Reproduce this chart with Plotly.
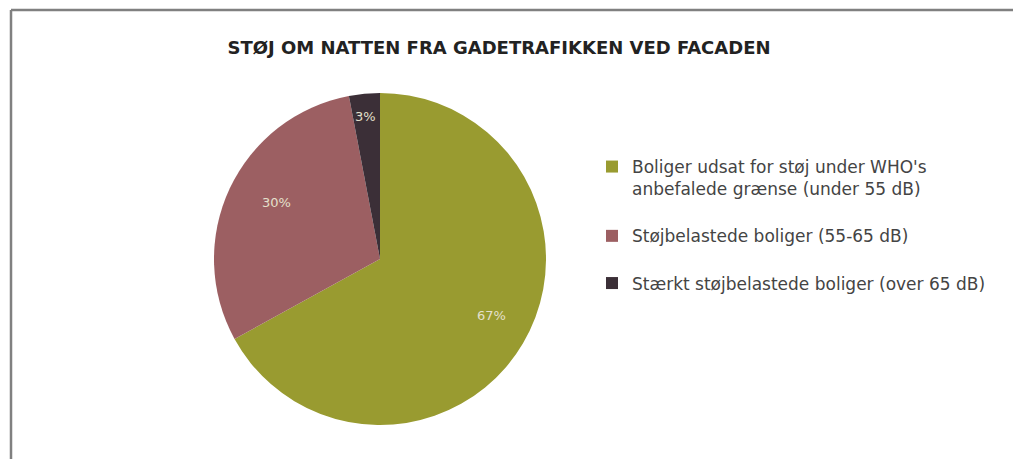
import math
import plotly.graph_objects as go

labels = [
    "Boliger udsat for støj under WHO's<br>anbefalede grænse (under 55 dB)",
    "Støjbelastede boliger (55-65 dB)",
    "Stærkt støjbelastede boliger (over 65 dB)",
]
values = [67, 30, 3]
colors = ["#999b30", "#9c5f62", "#3b2f37"]
title = "STØJ OM NATTEN FRA GADETRAFIKKEN VED FACADEN"

W, H = 1013, 459
cx, cy, r = 380, 259, 166
label_radius = [0.78, 0.80, 0.92]  # fraction of pie radius for the % labels (style)

legend_labels = [lab + "<br> " for lab in labels]  # blank line after each item for spacing

fig = go.Figure(go.Pie(
    labels=legend_labels,
    values=values,
    sort=False,
    direction="clockwise",
    rotation=0,
    marker=dict(colors=colors, line=dict(width=0)),
    textinfo="none",
    domain=dict(x=[(cx - r) / W, (cx + r) / W], y=[1 - (cy + r) / H, 1 - (cy - r) / H]),
    hoverinfo="percent",
))

# percentage labels placed at each slice's mid-angle (derived from the values)
total = sum(values)
annotations = []
cum = 0
for v, rf in zip(values, label_radius):
    mid = (cum + v / 2) / total * 2 * math.pi
    cum += v
    px = cx + math.sin(mid) * r * rf
    py = cy - math.cos(mid) * r * rf
    annotations.append(dict(
        x=px / W, y=1 - py / H, xref="paper", yref="paper",
        text=f"{v}%", showarrow=False,
        font=dict(size=13, color="#e4e0cc", family="DejaVu Sans, sans-serif"),
    ))

fig.update_layout(
    width=W, height=H,
    margin=dict(l=0, r=0, t=0, b=0),
    paper_bgcolor="white",
    plot_bgcolor="white",
    title=dict(
        text="<b>" + title + "</b>",
        x=499 / W, xanchor="center", y=1 - 48 / H, yanchor="middle",
        font=dict(size=18, color="#222222", family="DejaVu Sans, sans-serif"),
    ),
    legend=dict(
        x=592 / W, xanchor="left", y=1 - 149 / H, yanchor="top",
        valign="top",
        font=dict(size=17, color="#444444", family="DejaVu Sans, sans-serif"),
        itemwidth=30,
        bgcolor="rgba(0,0,0,0)",
    ),
    annotations=annotations,
    shapes=[
        dict(type="line", xref="paper", yref="paper", x0=11 / W, x1=1, y0=1 - 10 / H, y1=1 - 10 / H,
             line=dict(color="#808080", width=2.5)),
        dict(type="line", xref="paper", yref="paper", x0=11 / W, x1=11 / W, y0=0, y1=1 - 10 / H,
             line=dict(color="#808080", width=2.5)),
    ],
)

fig.write_html(
    "out.html",
    config={"displayModeBar": False},
    post_script="document.body.style.margin='0';document.body.style.overflow='hidden';",
)
